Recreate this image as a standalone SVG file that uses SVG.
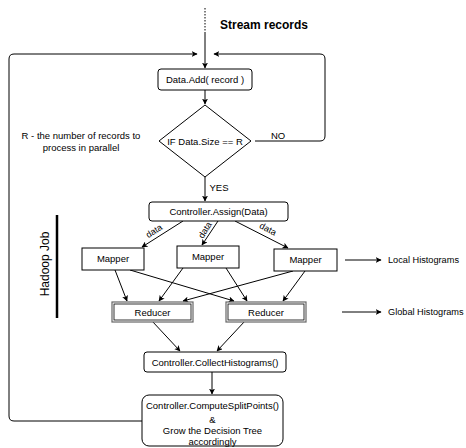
<svg xmlns="http://www.w3.org/2000/svg" width="466" height="448" viewBox="0 0 466 448">
  <style>
    text { font-family: "Liberation Sans", Arial, sans-serif; fill: #000; }
    .lbl { font-size: 9.5px; text-anchor: middle; dominant-baseline: central; }
    .side { font-size: 9.2px; dominant-baseline: central; }
    .box { fill: #fff; stroke: #000; stroke-width: 1; }
    .wire { fill: none; stroke: #000; stroke-width: 1; }
  </style>
  <defs>
    <marker id="arrow" viewBox="0 0 10 10" refX="9" refY="5" markerWidth="6" markerHeight="6" orient="auto" markerUnits="userSpaceOnUse">
      <path d="M0,0 L10,5 L0,10 L2.5,5 Z" fill="#000"/>
    </marker>
  </defs>
  <rect width="466" height="448" fill="#fff"/>

  <!-- connectors -->
  <g id="connectors">
    <line x1="205" y1="8" x2="205" y2="32" class="wire" stroke-dasharray="1.5 1.5"/>
    <line x1="205" y1="32" x2="205" y2="68" class="wire" marker-end="url(#arrow)"/>
    <!-- loop back from the split-point step -->
    <path d="M142,421 H14 Q9,421 9,416 V59 Q9,54 14,54 H197" class="wire" marker-end="url(#arrow)"/>
    <!-- NO branch back to the input -->
    <path d="M255,141 H320 Q325,141 325,136 V59 Q325,54 320,54 H214" class="wire" marker-end="url(#arrow)"/>
    <line x1="205" y1="90" x2="205" y2="104" class="wire" marker-end="url(#arrow)"/>
    <line x1="205" y1="177" x2="205" y2="201" class="wire" marker-end="url(#arrow)"/>
    <!-- data distribution -->
    <line x1="183" y1="221" x2="142" y2="247" class="wire" marker-end="url(#arrow)"/>
    <line x1="218" y1="221" x2="202" y2="245" class="wire" marker-end="url(#arrow)"/>
    <line x1="235" y1="221" x2="288" y2="248" class="wire" marker-end="url(#arrow)"/>
    <!-- mappers to reducers -->
    <line x1="115" y1="270" x2="127" y2="301" class="wire" marker-end="url(#arrow)"/>
    <line x1="130" y1="270" x2="234" y2="301" class="wire" marker-end="url(#arrow)"/>
    <line x1="183" y1="268" x2="159" y2="301" class="wire" marker-end="url(#arrow)"/>
    <line x1="226" y1="268" x2="247" y2="301" class="wire" marker-end="url(#arrow)"/>
    <line x1="293" y1="271" x2="183" y2="301" class="wire" marker-end="url(#arrow)"/>
    <line x1="305" y1="271" x2="283" y2="301" class="wire" marker-end="url(#arrow)"/>
    <!-- reducers to collector -->
    <line x1="152" y1="321" x2="180" y2="351" class="wire" marker-end="url(#arrow)"/>
    <line x1="245" y1="321" x2="217" y2="351" class="wire" marker-end="url(#arrow)"/>
    <line x1="212" y1="372" x2="212" y2="394" class="wire" marker-end="url(#arrow)"/>
    <!-- legend arrows -->
    <line x1="345" y1="260" x2="381" y2="260" class="wire" marker-end="url(#arrow)"/>
    <line x1="342" y1="312" x2="381" y2="312" class="wire" marker-end="url(#arrow)"/>
  </g>

  <!-- connector labels and notes -->
  <g id="labels">
    <text x="220" y="29" style="font-size:12px;font-weight:bold">Stream records</text>
    <text x="278" y="135" class="lbl">NO</text>
    <text x="219" y="187" class="lbl">YES</text>
    <text class="lbl" style="font-size:9px" transform="translate(154,231) rotate(-32)">data</text>
    <text class="lbl" style="font-size:9px" transform="translate(205,230) rotate(-58)">data</text>
    <text class="lbl" style="font-size:9px" transform="translate(268,229) rotate(28)">data</text>
    <text x="81" y="135" class="lbl">R - the number of records to</text>
    <text x="81" y="147" class="lbl">process in parallel</text>
    <text x="388" y="260" class="side">Local Histograms</text>
    <text x="388" y="312" class="side">Global Histograms</text>
  </g>

  <g id="hadoop-job">
    <line x1="57" y1="215" x2="57" y2="318" stroke="#000" stroke-width="2.5"/>
    <text transform="translate(45,264) rotate(-90)" style="font-size:12px;text-anchor:middle;dominant-baseline:central">Hadoop Job</text>
  </g>

  <g id="data-add">
    <rect x="158" y="69" width="94" height="21" rx="3" class="box"/>
    <text x="205" y="79.5" class="lbl">Data.Add( record )</text>
  </g>

  <g id="size-check">
    <polygon points="205,105 251,141 205,177 159,141" class="box"/>
    <text x="205" y="141" class="lbl">IF Data.Size == R</text>
  </g>

  <g id="assign">
    <rect x="149" y="202" width="139" height="19" rx="3" class="box"/>
    <text x="218.5" y="211.5" class="lbl">Controller.Assign(Data)</text>
  </g>

  <g id="mapper-1">
    <rect x="82" y="248" width="62" height="22" class="box"/>
    <text x="113" y="258.5" class="lbl">Mapper</text>
  </g>
  <g id="mapper-2">
    <rect x="177" y="246" width="62" height="22" class="box"/>
    <text x="208" y="256.5" class="lbl">Mapper</text>
  </g>
  <g id="mapper-3">
    <rect x="274" y="249" width="63" height="22" class="box"/>
    <text x="305.5" y="259.5" class="lbl">Mapper</text>
  </g>

  <g id="reducer-1">
    <rect x="112" y="302" width="81" height="20" fill="#fff" stroke="#666" stroke-width="1.2"/>
    <rect x="114" y="304" width="77" height="16" fill="none" stroke="#000" stroke-width="0.8"/>
    <text x="152.5" y="312" class="lbl">Reducer</text>
  </g>
  <g id="reducer-2">
    <rect x="226" y="302" width="80" height="20" fill="#fff" stroke="#666" stroke-width="1.2"/>
    <rect x="228" y="304" width="76" height="16" fill="none" stroke="#000" stroke-width="0.8"/>
    <text x="266" y="312" class="lbl">Reducer</text>
  </g>

  <g id="collect">
    <rect x="144" y="352" width="142" height="20" rx="3" class="box"/>
    <text x="215" y="362" class="lbl">Controller.CollectHistograms()</text>
  </g>

  <g id="split-points">
    <rect x="142" y="395" width="141" height="51" rx="7" class="box"/>
    <text x="212.5" y="405" class="lbl">Controller.ComputeSplitPoints()</text>
    <text x="212.5" y="419" class="lbl">&amp;</text>
    <text x="212.5" y="430" class="lbl">Grow the Decision Tree</text>
    <text x="212.5" y="441" class="lbl">accordingly</text>
  </g>
</svg>
